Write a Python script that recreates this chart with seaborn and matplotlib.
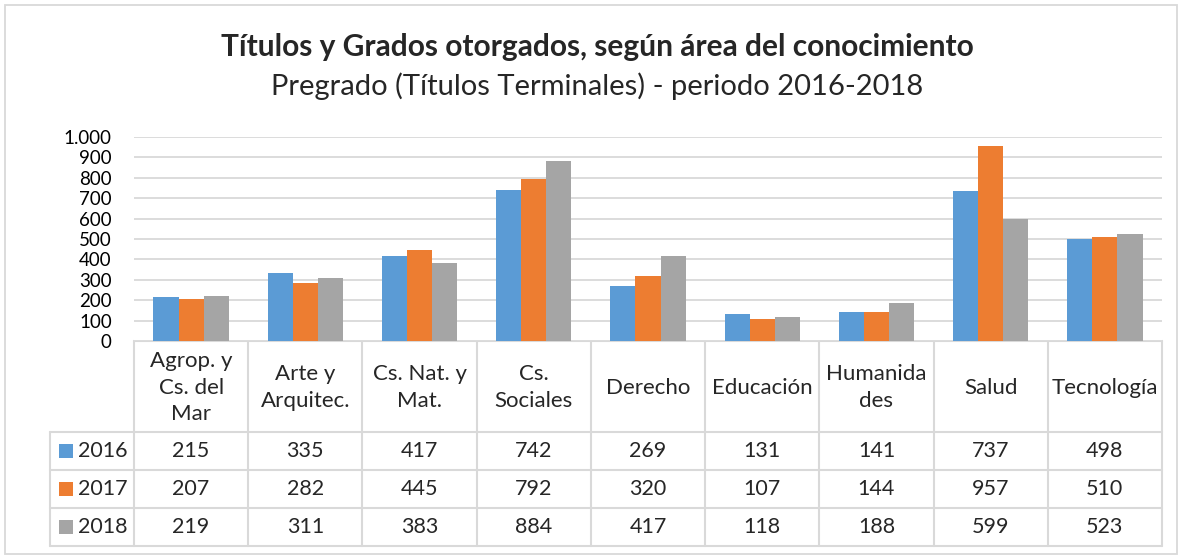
import numpy as np
import pandas as pd
import seaborn as sns
import matplotlib.pyplot as plt
from matplotlib.patches import Rectangle
from matplotlib.ticker import FuncFormatter

categorias = ["Agrop. y\nCs. del\nMar", "Arte y\nArquitec.", "Cs. Nat. y\nMat.", "Cs.\nSociales",
              "Derecho", "Educación", "Humanida\ndes", "Salud", "Tecnología"]
anios = ["2016", "2017", "2018"]
v2016 = [215, 335, 417, 742, 269, 131, 141, 737, 498]
v2017 = [207, 282, 445, 792, 320, 107, 144, 957, 510]
v2018 = [219, 311, 383, 884, 417, 118, 188, 599, 523]
colores = ["#5B9BD5", "#ED7D31", "#A5A5A5"]

series = [v2016, v2017, v2018]
df = pd.DataFrame({
    "cat": np.tile(np.arange(len(categorias)), 3),
    "anio": np.repeat(anios, len(categorias)),
    "valor": v2016 + v2017 + v2018,
})

sns.set_style("white")
plt.rcParams["font.family"] = ["Lato", "DejaVu Sans"]

W, H = 1183, 559
fig = plt.figure(figsize=(W / 100, H / 100), dpi=100)

# layout in pixels
x0, x1 = 134, 1162
ytop, ybot = 137, 341
cw = (x1 - x0) / len(categorias)
grid_c = "#d9d9d9"

ax = fig.add_axes([x0 / W, 1 - ybot / H, (x1 - x0) / W, (ybot - ytop) / H])
sns.barplot(data=df, x="cat", y="valor", hue="anio", palette=colores, saturation=1,
            width=0.66, gap=0, linewidth=0, ax=ax, legend=False)
ax.set_ylim(0, 1000)
ax.set_xlim(-0.5, len(categorias) - 0.5)
ax.set_yticks(range(0, 1001, 100))
ax.yaxis.set_major_formatter(FuncFormatter(lambda v, p: f"{int(v):,}".replace(",", ".")))
ax.tick_params(axis="y", length=0, pad=16, labelsize=13.5, labelcolor="#000000")
ax.set_xticks([])
ax.set_xlabel("")
ax.set_ylabel("")
ax.yaxis.grid(True, color=grid_c, linewidth=1.3)
ax.set_axisbelow(True)
for s in ax.spines.values():
    s.set_visible(False)

# overlay in pixel coords for the data table, titles and frame
ov = fig.add_axes([0, 0, 1, 1], zorder=-1)
ov.set_xlim(0, W)
ov.set_ylim(H, 0)
ov.axis("off")
ov.add_patch(Rectangle((5, 5), W - 11, H - 10, fill=False, edgecolor=grid_c, linewidth=1.3))

ov.text(597, 47, "Títulos y Grados otorgados, según área del conocimiento",
        ha="center", va="center", fontsize=21.5, fontweight="bold")
ov.text(597, 86, "Pregrado (Títulos Terminales) - periodo 2016-2018",
        ha="center", va="center", fontsize=21)

tbl = dict(color=grid_c, linewidth=1.5)
leg_x = 50
rows_y = [341, 432, 470, 508, 546]
ov.plot([x0, x1], [rows_y[0], rows_y[0]], **tbl)
for yy in rows_y[1:]:
    ov.plot([leg_x, x1], [yy, yy], **tbl)
ov.plot([leg_x, leg_x], [rows_y[1], rows_y[-1]], **tbl)
for i in range(len(categorias) + 1):
    xx = x0 + i * cw
    ov.plot([xx, xx], [rows_y[0], rows_y[-1]], **tbl)

for i, c in enumerate(categorias):
    ov.text(x0 + (i + 0.5) * cw, (rows_y[0] + rows_y[1]) / 2 + 1, c,
            ha="center", va="center", fontsize=16, linespacing=1.38)

for r, (a, vals, col) in enumerate(zip(anios, series, colores)):
    yc = (rows_y[r + 1] + rows_y[r + 2]) / 2
    ov.add_patch(Rectangle((59, yc - 7), 14, 14, facecolor=col, edgecolor="none"))
    ov.text(78, yc, a, ha="left", va="center", fontsize=15.5)
    for i, v in enumerate(vals):
        ov.text(x0 + (i + 0.5) * cw, yc, str(v), ha="center", va="center", fontsize=15.5)

fig.savefig("out.png", dpi=100)
